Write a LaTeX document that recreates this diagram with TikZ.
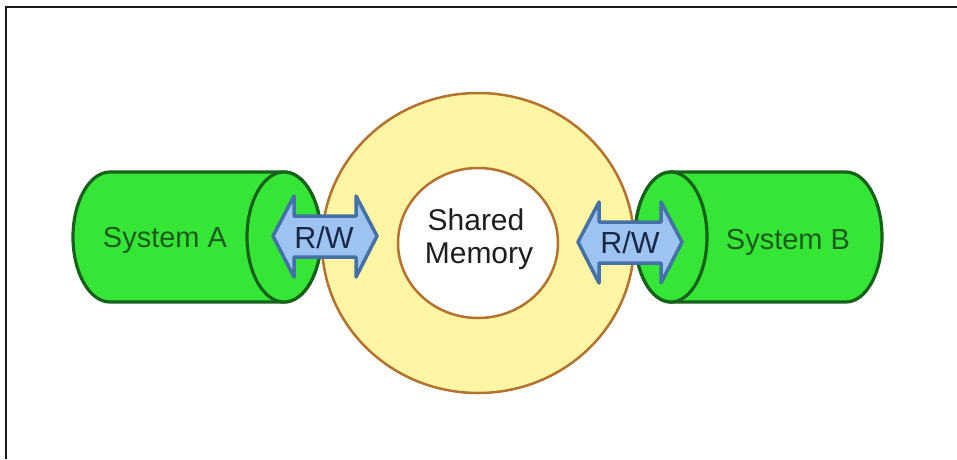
\documentclass[tikz,border=0pt]{standalone}
\usepackage{fontspec}
\setmainfont{Liberation Sans}
\definecolor{cylfill}{HTML}{36E636}
\definecolor{cylline}{HTML}{17621A}
\definecolor{cyltext}{HTML}{1C5A1E}
\definecolor{ringfill}{HTML}{FFF5A2}
\definecolor{ringline}{HTML}{B4722F}
\definecolor{arrfill}{HTML}{9DC4F0}
\definecolor{arrline}{HTML}{4471A8}
\definecolor{arrtext}{HTML}{1A2848}
\definecolor{memtext}{HTML}{1E1E1E}
\tikzset{
  cylbody/.style={fill=cylfill, draw=cylline, line width=3.2pt, line join=round},
  ringpart/.style={draw=ringline, line width=2.5pt},
  rwarrow/.style={fill=arrfill, draw=arrline, line width=3.5pt, line join=round},
  syslabel/.style={font=\fontsize{29}{34}\selectfont, text=cyltext, inner sep=0pt, anchor=base},
  rwlabel/.style={font=\fontsize{30.5}{34}\selectfont, text=arrtext, inner sep=0pt, anchor=base},
  memlabel/.style={font=\fontsize{30}{34}\selectfont, text=memtext, inner sep=0pt, anchor=base},
  frameline/.style={draw=black!90, line width=2pt}
}
\begin{document}
\begin{tikzpicture}[x=1pt, y=-1pt]
\useasboundingbox (0,0) rectangle (957,459);
\fill[white] (0,0) rectangle (957,459);
% frame (top and left only)
\coordinate (ftr) at (957,6.5);
\coordinate (ftl) at (5.5,6.5);
\coordinate (fbl) at (5.5,459);
\draw[frameline] (ftr) -- (ftl) -- (fbl);

% cylinder A
\path[cylbody] (110,172) -- (284,172)
  arc[start angle=-90, end angle=90, x radius=37, y radius=65]
  -- (110,302)
  arc[start angle=90, end angle=270, x radius=37, y radius=65] -- cycle;
\path[cylbody] (284,237) ellipse[x radius=37, y radius=65];

% cylinder B
\path[cylbody] (671,172) -- (846,172)
  arc[start angle=-90, end angle=90, x radius=36, y radius=65]
  -- (671,302)
  arc[start angle=90, end angle=270, x radius=36, y radius=65] -- cycle;
\path[cylbody] (671,237) ellipse[x radius=36, y radius=65];

% ring
\path[ringpart, fill=ringfill] (478,243) ellipse[x radius=156, y radius=150];
\path[ringpart, fill=white] (478,243) ellipse[x radius=80, y radius=75];

% left R/W arrow
\path[rwarrow] (273,236) -- (294,196) -- (294,216) -- (356,216) -- (356,196)
  -- (377,236) -- (356,277) -- (356,257) -- (294,257) -- (294,277) -- cycle;
% right R/W arrow
\path[rwarrow] (578,242) -- (599,202) -- (599,222) -- (661,222) -- (661,202)
  -- (682,242) -- (661,283) -- (661,263) -- (599,263) -- (599,283) -- cycle;

% labels
\node[syslabel] (sysA) at (165,247) {System A};
\node[syslabel] (sysB) at (788,249) {System B};
\node[rwlabel] (rwA) at (324,248) {R/W};
\node[rwlabel] (rwB) at (630,253) {R/W};
\node[memlabel] (mem1) at (476,230) {Shared};
\node[memlabel] (mem2) at (479,263) {Memory};
\end{tikzpicture}
\end{document}
